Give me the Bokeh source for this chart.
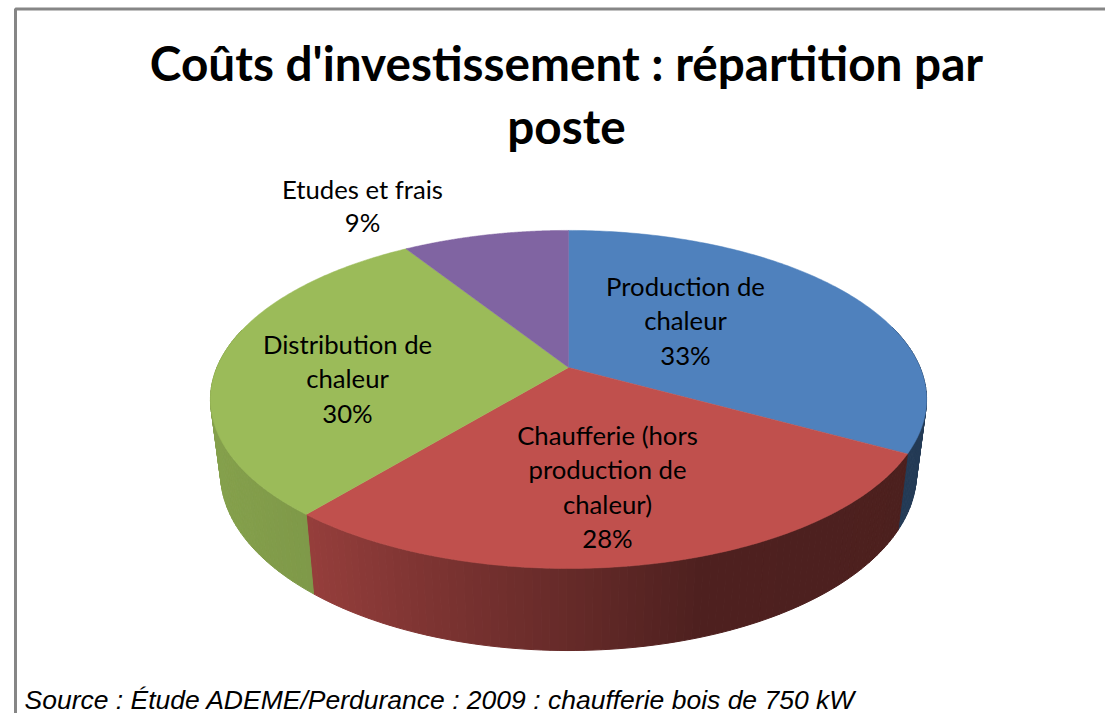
import numpy as np
from bokeh.embed import file_html
from bokeh.resources import INLINE
from bokeh.plotting import figure
from bokeh.models import Range1d
from bokeh.core.properties import value

categories = ["Production de chaleur", "Chaufferie (hors production de chaleur)",
              "Distribution de chaleur", "Etudes et frais"]
shares = [33, 28, 30, 9]
top_colors = ["#4f81bd", "#c0504d", "#9bbb59", "#8064a2"]
title_lines = ["Coûts d'investissement : répartition par", "poste"]
source_text = "Source : Étude ADEME/Perdurance : 2009 : chaufferie bois de 750 kW"
label_lines = [["Production de", "chaleur"], ["Chaufferie (hors", "production de", "chaleur)"],
               ["Distribution de", "chaleur"], ["Etudes et frais"]]
label_xy = [(685, 285), (607, 434), (347, 343), (362, 188)]
line_step = [34.5, 34.5, 34.5, 33.5]

# perspective projection of the pie disc
CX, CY, AX, BY, K = 568.0, 367.0, 351.6, 163.0, 0.189

def top(a):
    u, v = np.sin(a), -np.cos(a)
    d = 1 - K * v
    return CX + AX * u / d, CY + BY * v / d

def bottom(a):
    u, v = np.sin(a), -np.cos(a)
    d = 1 - K * v
    return CX + 0.972 * AX * u / d, 439 + 1.05 * BY * v / d

def mix(c, f):
    r, g, b = [int(c[i:i + 2], 16) for i in (1, 3, 5)]
    return "#%02x%02x%02x" % (int(r * f), int(g * f), int(b * f))

p = figure(width=1105, height=713, output_backend="svg", toolbar_location=None,
           x_range=Range1d(0, 1105), y_range=Range1d(713, 0),
           x_axis_type=None, y_axis_type=None, min_border=0, outline_line_color=None,
           background_fill_color="#ffffff", border_fill_color="#ffffff")
p.grid.visible = False

# frame of the original chart area
p.line([15, 15, 1105], [713, 8.5, 8.5], line_color="#868686", line_width=3)

fractions = np.cumsum([0] + shares) / sum(shares)
angles = 2 * np.pi * fractions

# side wall
side_xs, side_ys, side_cols = [], [], []
for i, col in enumerate(top_colors):
    a0, a1 = angles[i], angles[i + 1]
    n = max(2, int((a1 - a0) / 0.02))
    edges = np.linspace(a0, a1, n + 1)
    for e0, e1 in zip(edges[:-1], edges[1:]):
        if np.cos((e0 + e1) / 2) > 0.25:
            continue
        tx, ty = top(np.array([e0, e1]))
        bx, by = bottom(np.array([e1, e0]))
        xm = (tx[0] + tx[1]) / 2
        if i == 0:
            f = 0.46
        elif i == 1:
            f = np.interp(xm, [306, 420, 560, 700, 910], [0.78, 0.66, 0.54, 0.41, 0.40])
        else:
            f = np.interp(xm, [210, 306], [0.86, 0.82])
        side_xs.append(list(tx) + list(bx))
        side_ys.append(list(ty) + list(by))
        side_cols.append(mix(col, f))
p.patches(side_xs, side_ys, fill_color=side_cols, line_color=side_cols, line_width=1)

# top faces
face_xs, face_ys = [], []
for i in range(len(shares)):
    arc = np.linspace(angles[i], angles[i + 1], 160)
    ax, ay = top(arc)
    face_xs.append([CX] + list(ax))
    face_ys.append([CY] + list(ay))
p.patches(face_xs, face_ys, fill_color=top_colors, line_color=top_colors, line_width=0.5)

# texts
p.text([566, 566], [62, 125], text=title_lines, text_font=value("Lato"), text_font_style="bold",
       text_font_size="47.7px", text_color="#000000", text_align="center", text_baseline="middle")

tx, ty, tt = [], [], []
for lines, (x, y), step, share in zip(label_lines, label_xy, line_step, shares):
    for j, s in enumerate(lines + [f"{share}%"]):
        tx.append(x)
        ty.append(y + j * step)
        tt.append(s)
p.text(tx, ty, text=tt, text_font=value("Lato"), text_font_size="25.7px", text_color="#000000",
       text_align="center", text_baseline="middle")

p.text([24], [699], text=[source_text], text_font=value("Liberation Sans"), text_font_style="italic",
       text_font_size="26.5px", text_color="#000000", text_align="left", text_baseline="middle")

open("out.html", "w").write(file_html(p, INLINE))
